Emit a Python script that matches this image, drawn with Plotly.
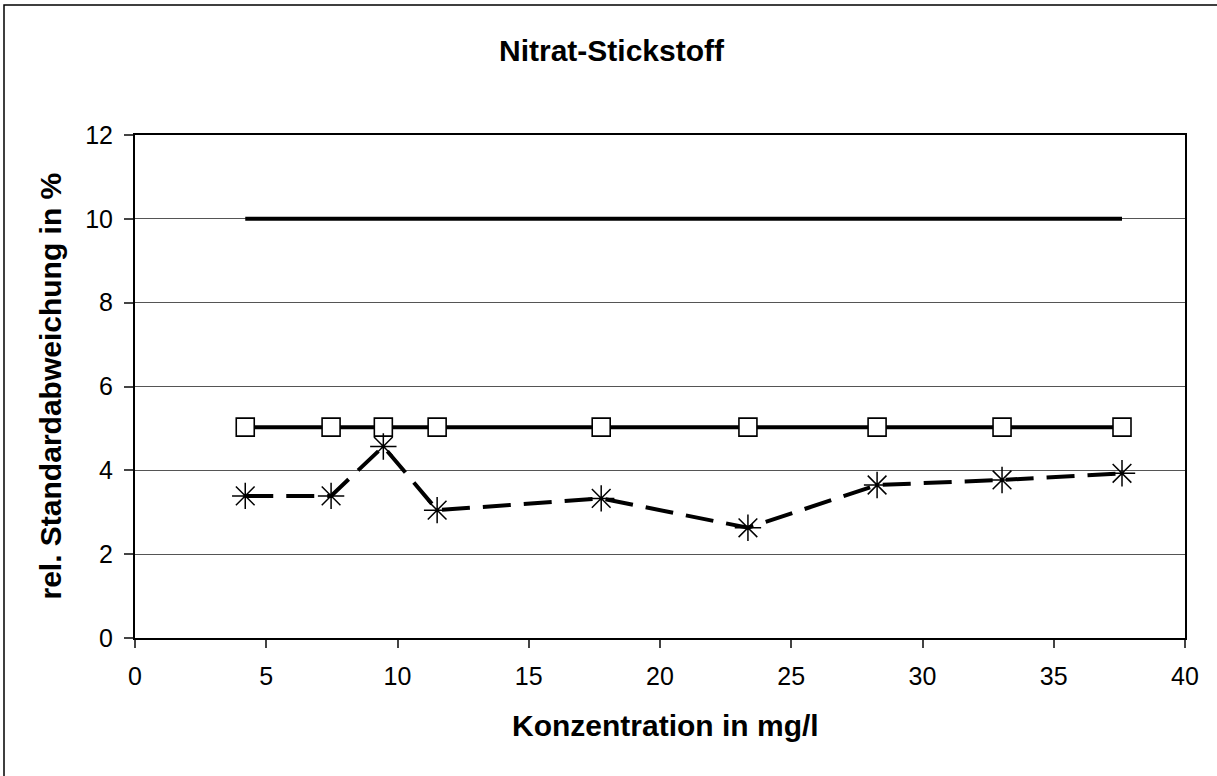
import plotly.graph_objects as go

# Data
konz = [4.2, 7.47, 9.46, 11.51, 17.76, 23.35, 28.27, 33.03, 37.6]
rsd_messung = [3.39, 3.39, 4.57, 3.05, 3.33, 2.63, 3.65, 3.77, 3.93]
rsd_ziel = [5.03, 5.03, 5.03, 5.03, 5.03, 5.03, 5.03, 5.03, 5.03]
grenze_x = [4.2, 37.6]
grenze_y = [10.0, 10.0]

title_text = "Nitrat-Stickstoff"
x_title = "Konzentration in mg/l"
y_title = "rel. Standardabweichung in %"

FONT = "Liberation Sans, Arial, sans-serif"

fig = go.Figure()
fig.add_trace(go.Scatter(x=grenze_x, y=grenze_y, mode="lines",
                         line=dict(color="black", width=4), showlegend=False))
fig.add_trace(go.Scatter(x=konz, y=rsd_ziel, mode="lines+markers",
                         line=dict(color="black", width=4),
                         marker=dict(symbol="square", size=18, color="white",
                                     line=dict(color="black", width=1.6)),
                         showlegend=False))
fig.add_trace(go.Scatter(x=konz, y=rsd_messung, mode="lines+markers",
                         line=dict(color="black", width=4, dash="28px,13px"),
                         marker=dict(symbol="asterisk-open", size=22, color="black",
                                     line=dict(color="black", width=1.5)),
                         showlegend=False))

L, R, T, B = 135, 32, 135, 138
W, H = 1217, 776
pw, ph = W - L - R, H - T - B

def px(x):
    return (x - L) / pw

def py(y):
    return (H - B - y) / ph

fig.update_layout(
    width=W, height=H,
    margin=dict(l=L, r=R, t=T, b=B),
    paper_bgcolor="white", plot_bgcolor="white",
    font=dict(family=FONT, color="black", size=25),
    xaxis=dict(range=[0, 40], dtick=5, showgrid=False, zeroline=False,
               showline=True, linecolor="black", linewidth=2, mirror=True,
               ticks="outside", ticklen=8, tickwidth=1.5, tickcolor="#444",
               ticklabelstandoff=7,
               tickfont=dict(size=25, family=FONT)),
    yaxis=dict(range=[0, 12], dtick=2, showgrid=True, gridcolor="#555", gridwidth=1,
               zeroline=False, showline=True, linecolor="black", linewidth=2, mirror=True,
               ticks="outside", ticklen=9, tickwidth=1.5, tickcolor="#444",
               ticklabelstandoff=6,
               tickfont=dict(size=25, family=FONT)),
    shapes=[dict(type="rect", xref="paper", yref="paper",
                 x0=px(4), x1=px(1222), y0=py(781), y1=py(5),
                 line=dict(color="black", width=1.5), fillcolor="rgba(0,0,0,0)",
                 layer="below")],
    annotations=[
        dict(text="<b>%s</b>" % title_text, xref="paper", yref="paper",
             x=px(497), y=py(62), xanchor="left", yanchor="bottom", showarrow=False,
             font=dict(size=30, family=FONT), yshift=-7),
        dict(text="<b>%s</b>" % x_title, xref="paper", yref="paper",
             x=px(510), y=py(737), xanchor="left", yanchor="bottom", showarrow=False,
             font=dict(size=30, family=FONT), yshift=-7),
        dict(text="<b>%s</b>" % y_title, xref="paper", yref="paper",
             x=px(50), y=0.5, xanchor="center", yanchor="middle", showarrow=False,
             textangle=-90, font=dict(size=30, family=FONT)),
    ],
)

fig.write_html("out.html", config={"displayModeBar": False},
               post_script="document.body.style.margin='0';document.body.style.overflow='hidden';")
